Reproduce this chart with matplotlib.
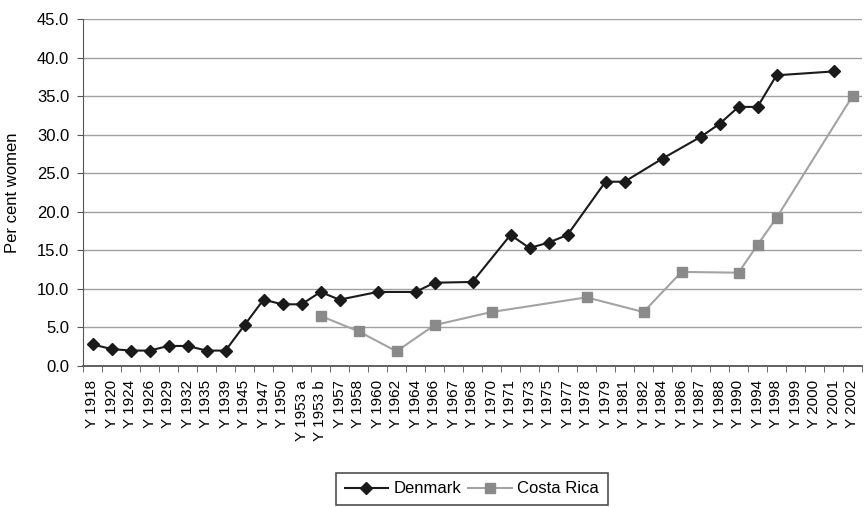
import matplotlib.pyplot as plt
import numpy as np

plt.rcParams['font.family'] = ['Liberation Sans', 'DejaVu Sans']

years = ['Y 1918', 'Y 1920', 'Y 1924', 'Y 1926', 'Y 1929', 'Y 1932', 'Y 1935',
         'Y 1939', 'Y 1945', 'Y 1947', 'Y 1950', 'Y 1953 a', 'Y 1953 b',
         'Y 1957', 'Y 1958', 'Y 1960', 'Y 1962', 'Y 1964', 'Y 1966', 'Y 1967',
         'Y 1968', 'Y 1970', 'Y 1971', 'Y 1973', 'Y 1975', 'Y 1977', 'Y 1978',
         'Y 1979', 'Y 1981', 'Y 1982', 'Y 1984', 'Y 1986', 'Y 1987', 'Y 1988',
         'Y 1990', 'Y 1994', 'Y 1998', 'Y 1999', 'Y 2000', 'Y 2001', 'Y 2002']

nan = np.nan
denmark = [2.8, 2.2, 2.0, 2.0, 2.6, 2.6, 2.0, 2.0, 5.3, 8.6, 8.0, 8.0, 9.6,
           8.6, nan, 9.6, nan, 9.6, 10.8, nan, 10.9, nan, 17.0, 15.3, 16.0,
           17.0, nan, 23.9, 23.9, nan, 26.9, nan, 29.7, 31.4, 33.6, 33.6,
           37.7, nan, nan, 38.2, nan]
costa_rica = [nan, nan, nan, nan, nan, nan, nan, nan, nan, nan, nan, nan, 6.5,
              nan, 4.5, nan, 1.9, nan, 5.3, nan, nan, 7.0, nan, nan, nan,
              nan, 8.9, nan, nan, 7.0, nan, 12.2, nan, nan, 12.1, 15.7,
              19.2, nan, nan, nan, 35.0]

fig = plt.figure(figsize=(8.65, 5.07), dpi=100)
ax = fig.add_axes([83 / 865, 1 - 366 / 507, 779 / 865, 347 / 507])

x = np.arange(len(years))
dk = np.array(denmark)
cr = np.array(costa_rica)
m1 = ~np.isnan(dk)
m2 = ~np.isnan(cr)

# lines are joined across missing years, as in the original
ax.plot(x[m1], dk[m1], color='#1a1a1a', lw=1.5, marker='D', markersize=6,
        label='Denmark', zorder=3)
ax.plot(x[m2], cr[m2], color='#a3a3a3', lw=1.5, marker='s', markersize=7,
        markerfacecolor='#8a8a8a', markeredgecolor='#8a8a8a',
        label='Costa Rica', zorder=3)

ax.set_xlim(-0.5, len(years) - 0.5)
ax.set_ylim(0, 45)
yt = np.arange(0, 46, 5)
ax.set_yticks(yt)
ax.set_yticklabels([f'{v:.1f}' for v in yt], fontsize=12)
ax.set_xticks(x)
ax.set_xticklabels(years, rotation=90, fontsize=11)
ax.set_xticks(np.arange(-0.5, len(years), 1), minor=True)
ax.tick_params(axis='x', which='major', length=0, pad=10)
ax.tick_params(axis='x', which='minor', length=4, color='#555555')
ax.tick_params(axis='y', length=4, color='#555555', pad=6)

ax.grid(axis='y', color='#a0a0a0', lw=1)
ax.set_axisbelow(True)
for s in ['top', 'right']:
    ax.spines[s].set_visible(False)
ax.spines['left'].set_color('#555555')
ax.spines['bottom'].set_color('#555555')
ax.spines['bottom'].set_linewidth(1.3)

ax.set_ylabel('Per cent women', fontsize=12, labelpad=12)

leg = fig.legend(loc='upper center', bbox_to_anchor=(472 / 865, 1 - 473 / 507),
                 ncol=2, frameon=True, fancybox=False, fontsize=12,
                 handlelength=2.6, columnspacing=0.4, handletextpad=0.35,
                 borderpad=0.5, borderaxespad=0)
leg.get_frame().set_edgecolor('#222222')
leg.get_frame().set_linewidth(1.2)

fig.savefig('out.png', dpi=100)
